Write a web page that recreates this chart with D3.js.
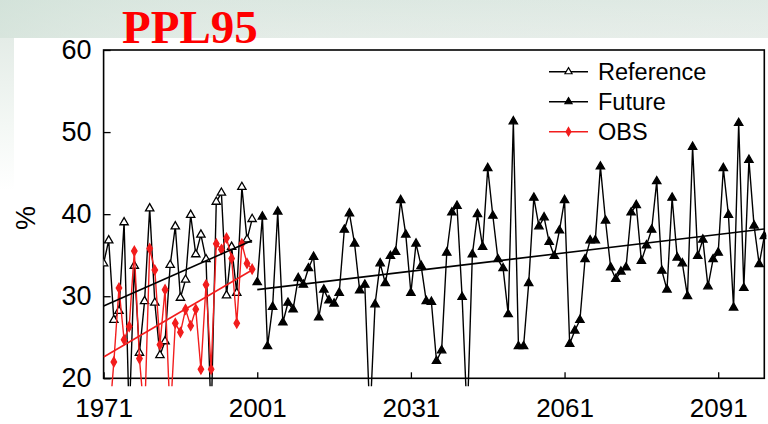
<!DOCTYPE html>
<html>
<head>
<meta charset="utf-8">
<script src="https://cdn.jsdelivr.net/npm/d3@7"></script>
<style>
  html, body { margin: 0; padding: 0; width: 768px; height: 424px; overflow: hidden; background: #fff; }
  svg { display: block; }
</style>
</head>
<body>
<svg id="chart" width="768" height="424"></svg>
<script>
// ---------------- DATA ----------------
const refStartYear = 1971;
const futureStartYear = 2001;
const xTickValues = [1971, 2001, 2031, 2061, 2091];
const yTickValues = [20, 30, 40, 50, 60];

// Reference (model, 1971-2000), % ; values below 20 are off-scale
const referenceValues = [34.0, 36.8, 27.1, 28.2, 39.0, 15.0, 33.7, 23.1, 29.4, 40.7,
                         29.2, 22.8, 24.5, 33.8, 38.5, 29.8, 32.0, 39.9, 35.1, 37.5,
                         34.5, 15.0, 41.5, 42.6, 30.1, 36.0, 30.4, 43.3, 36.9, 39.4];
// Observations (1971-2000)
const obsValues = [18.5, 14.0, 22.0, 31.0, 24.7, 26.3, 35.5, 22.4, 15.0, 35.8,
                   33.2, 24.1, 30.8, 15.0, 26.7, 25.6, 28.4, 26.4, 28.4, 21.1,
                   31.4, 21.1, 36.4, 35.7, 37.1, 34.6, 26.7, 36.4, 34.0, 33.3];
// Future (2001-2100)
const futureValues = [31.7, 39.7, 23.9, 28.7, 40.3, 26.8, 29.2, 28.4, 32.2, 31.4,
                      33.4, 34.8, 27.4, 30.8, 29.5, 29.1, 30.4, 38.1, 40.1, 36.4,
                      30.7, 31.4, 15.0, 29.0, 34.0, 31.6, 34.9, 35.4, 41.7, 37.5,
                      30.4, 36.4, 33.7, 29.4, 29.3, 22.1, 23.4, 35.3, 40.2, 41.0,
                      29.9, 15.0, 35.1, 40.0, 36.0, 45.6, 39.8, 34.5, 33.4, 27.8,
                      51.3, 23.9, 23.9, 31.6, 42.0, 38.5, 39.6, 36.6, 34.9, 38.0,
                      41.7, 24.2, 25.8, 27.1, 34.5, 36.8, 36.8, 45.8, 39.2, 33.5,
                      32.1, 33.0, 33.5, 40.2, 41.1, 34.3, 36.2, 38.1, 44.0, 33.1,
                      30.8, 42.0, 34.7, 34.0, 30.0, 48.2, 34.9, 36.9, 31.2, 34.5,
                      35.3, 45.6, 39.9, 28.6, 51.1, 31.0, 46.6, 38.6, 33.9, 37.3];

// Linear trend lines: [startYear, startValue, endYear, endValue]
const refTrend = [1971, 28.8, 2000, 36.8];
const obsTrend = [1971, 22.6, 2000, 33.2];
const futureTrend = [2001, 30.8, 2100, 38.2];

const legendLabels = ["Reference", "Future", "OBS"];
const titleText = "PPL95";
const yLabel = "%";

// ---------------- DRAW ----------------
const svg = d3.select("#chart");
const W = 768, H = 424;
const RED = "#f21d1d";

// background (slide-like)
const defs = svg.append("defs");
const bg = defs.append("linearGradient").attr("id", "bgGrad")
  .attr("x1", 0).attr("y1", 0).attr("x2", 0).attr("y2", 1);
bg.append("stop").attr("offset", "0%").attr("stop-color", "#d9e6df");
bg.append("stop").attr("offset", "9%").attr("stop-color", "#e4ece7");
bg.append("stop").attr("offset", "30%").attr("stop-color", "#f4f8f5");
bg.append("stop").attr("offset", "45%").attr("stop-color", "#ffffff");
const bgH = defs.append("linearGradient").attr("id", "bgGradH")
  .attr("x1", 0).attr("y1", 0).attr("x2", 1).attr("y2", 0);
bgH.append("stop").attr("offset", "0%").attr("stop-color", "#cfe0d6").attr("stop-opacity", 0.6);
bgH.append("stop").attr("offset", "40%").attr("stop-color", "#e8efea").attr("stop-opacity", 0.2);
bgH.append("stop").attr("offset", "100%").attr("stop-color", "#f0f3f1").attr("stop-opacity", 0.3);
svg.append("rect").attr("width", W).attr("height", H).attr("fill", "url(#bgGrad)");
svg.append("rect").attr("width", W).attr("height", 38).attr("fill", "url(#bgGradH)");
svg.append("rect").attr("x", 14).attr("y", 38).attr("width", W - 14).attr("height", H - 38).attr("fill", "#fff");

const x = d3.scaleLinear().domain([1971, 2100]).range([103.6, 764.3]);
const y = d3.scaleLinear().domain([20, 60]).range([378.3, 50]);

defs.append("clipPath").attr("id", "plotClip")
  .append("rect").attr("x", x(1971)).attr("y", y(60))
  .attr("width", x(2100) - x(1971) + 2).attr("height", y(20) - y(60) + 8);

// axes
const xAxis = d3.axisBottom(x).tickValues(xTickValues).tickSize(-6).tickPadding(20)
  .tickFormat(d3.format("d"));
const gx = svg.append("g").attr("transform", `translate(0,${y(20)})`).call(xAxis);
gx.select(".domain").remove();
gx.selectAll(".tick line").attr("stroke", "#000").attr("stroke-width", 1.3);
gx.selectAll(".tick text").attr("font-family", "'Liberation Sans', Arial, sans-serif")
  .attr("font-size", 26).attr("fill", "#000");

const yAxis = d3.axisLeft(y).tickValues(yTickValues).tickSize(-7).tickPadding(12);
const gy = svg.append("g").attr("transform", `translate(${x(1971)},0)`).call(yAxis);
gy.select(".domain").remove();
gy.selectAll(".tick line").attr("stroke", "#000").attr("stroke-width", 1.3);
gy.selectAll(".tick text").attr("font-family", "'Liberation Sans', Arial, sans-serif")
  .attr("font-size", 27).attr("fill", "#000");

// frame
svg.append("rect").attr("x", x(1971)).attr("y", y(60))
  .attr("width", x(2100) - x(1971)).attr("height", y(20) - y(60))
  .attr("fill", "none").attr("stroke", "#000").attr("stroke-width", 1.6);

// y label
svg.append("text").attr("transform", "translate(26,218) rotate(-90)")
  .attr("text-anchor", "middle").attr("dominant-baseline", "central")
  .attr("font-family", "'Liberation Sans', Arial, sans-serif").attr("font-size", 27)
  .text(yLabel);

// title
svg.append("text").attr("x", 122).attr("y", 42.5)
  .attr("font-family", "'Liberation Serif', 'Times New Roman', serif")
  .attr("font-weight", "bold").attr("font-size", 47).attr("fill", "#ff0000")
  .text(titleText);

// data
const plot = svg.append("g").attr("clip-path", "url(#plotClip)");
const tri = d3.symbol().type(d3.symbolTriangle).size(30);
const dia = d3.symbol().type(d3.symbolDiamond).size(26);

function series(values, startYear, color, marker, fill) {
  const pts = values.map((v, i) => ({ yr: startYear + i, v }));
  plot.append("path").datum(pts)
    .attr("fill", "none").attr("stroke", color).attr("stroke-width", 1.4)
    .attr("stroke-linejoin", "round")
    .attr("d", d3.line().x(d => x(d.yr)).y(d => y(d.v)));
  plot.selectAll(null).data(pts.filter(d => d.v >= 19)).enter().append("path")
    .attr("transform", d => `translate(${x(d.yr)},${y(d.v)})`)
    .attr("d", marker)
    .attr("fill", fill).attr("stroke", color).attr("stroke-width", 1.3);
}
function trend(t, color) {
  plot.append("line")
    .attr("x1", x(t[0])).attr("y1", y(t[1]))
    .attr("x2", x(t[2])).attr("y2", y(t[3]))
    .attr("stroke", color).attr("stroke-width", 1.6);
}

series(referenceValues, refStartYear, "#000", tri, "#fff");
series(obsValues, refStartYear, RED, dia, RED);
series(futureValues, futureStartYear, "#000", tri, "#000");
trend(refTrend, "#000");
trend(obsTrend, RED);
trend(futureTrend, "#000");

// legend
const legend = svg.append("g");
const legendRows = [
  { label: legendLabels[0], color: "#000", fill: "#fff" },
  { label: legendLabels[1], color: "#000", fill: "#000" },
  { label: legendLabels[2], color: RED, fill: RED }
];
legendRows.forEach((r, i) => {
  const ly = 71.7 + i * 30;
  legend.append("line").attr("x1", 549).attr("x2", 588).attr("y1", ly).attr("y2", ly)
    .attr("stroke", r.color).attr("stroke-width", 1.4);
  legend.append("path").attr("transform", `translate(568.5,${ly})`)
    .attr("d", i === 2 ? d3.symbol().type(d3.symbolDiamond).size(20)() : d3.symbol().type(d3.symbolTriangle).size(22)())
    .attr("fill", r.fill).attr("stroke", r.color).attr("stroke-width", 1.2);
  legend.append("text").attr("x", 598).attr("y", ly).attr("dominant-baseline", "central")
    .attr("font-family", "'Liberation Sans', Arial, sans-serif").attr("font-size", 23.5)
    .attr("fill", "#000").text(r.label);
});
</script>
</body>
</html>
